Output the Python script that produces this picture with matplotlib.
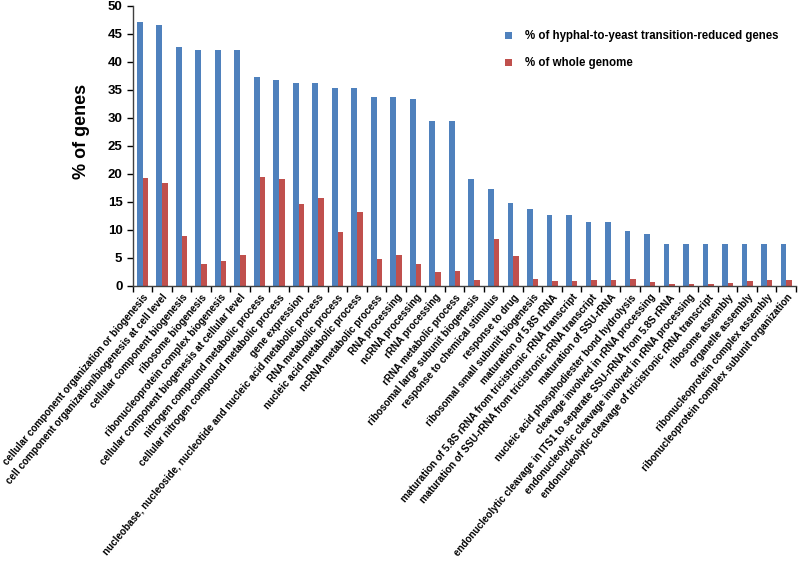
import numpy as np
import matplotlib.pyplot as plt
from matplotlib.ticker import FixedLocator

plt.rcParams['font.family'] = ['Liberation Sans', 'DejaVu Sans']

# GO terms, left to right
categories = [
    "cellular component organization or biogenesis",
    "cell component organization/biogenesis at cell level",
    "cellular component biogenesis",
    "ribosome biogenesis",
    "ribonucleoprotein complex biogenesis",
    "cellular component biogenesis at cellular level",
    "nitrogen compound metabolic process",
    "cellular nitrogen compound metabolic process",
    "gene expression",
    "nucleobase, nucleoside, nucleotide and nucleic acid metabolic process",
    "RNA metabolic process",
    "nucleic acid metabolic process",
    "ncRNA metabolic process",
    "RNA processing",
    "ncRNA processing",
    "rRNA processing",
    "rRNA metabolic process",
    "ribosomal large subunit biogenesis",
    "response to chemical stimulus",
    "response to drug",
    "ribosomal small subunit biogenesis",
    "maturation of 5.8S rRNA",
    "maturation of 5.8S rRNA from tricistronic rRNA transcript",
    "maturation of SSU-rRNA from tricistronic rRNA transcript",
    "maturation of SSU-rRNA",
    "nucleic acid phosphodiester bond hydrolysis",
    "cleavage involved in rRNA processing",
    "endonucleolytic cleavage in ITS1 to separate SSU-rRNA from 5.8S rRNA",
    "endonucleolytic cleavage involved in rRNA processing",
    "endonucleolytic cleavage of tricistronic rRNA transcript",
    "ribosome assembly",
    "organelle assembly",
    "ribonucleoprotein complex assembly",
    "ribonucleoprotein complex subunit organization",
]

# % of hyphal-to-yeast transition-reduced genes
reduced_pct = [47.1, 46.6, 42.6, 42.2, 42.2, 42.2, 37.3, 36.8, 36.3, 36.3,
               35.3, 35.3, 33.8, 33.8, 33.3, 29.4, 29.4, 19.1, 17.2, 14.7,
               13.7, 12.7, 12.7, 11.3, 11.3, 9.8, 9.3, 7.4, 7.4, 7.4,
               7.4, 7.4, 7.4, 7.4]

# % of whole genome
genome_pct = [19.3, 18.3, 8.9, 3.9, 4.4, 5.5, 19.4, 19.1, 14.6, 15.7,
              9.5, 13.2, 4.7, 5.5, 3.9, 2.5, 2.6, 0.9, 8.3, 5.2,
              1.1, 0.8, 0.8, 0.9, 1.0, 1.1, 0.6, 0.3, 0.3, 0.3,
              0.5, 0.8, 1.0, 1.0]

legend_labels = ["% of hyphal-to-yeast transition-reduced genes",
                 "% of whole genome"]

blue = "#4F81BD"
red = "#C0504D"

fig = plt.figure(figsize=(8, 5.71), dpi=100)
ax = fig.add_axes([0.166, 0.5, 0.829, 0.4895])

x = np.arange(len(categories))
w = 0.29
ax.bar(x - w / 2, reduced_pct, width=w, color=blue, label=legend_labels[0])
ax.bar(x + w / 2, genome_pct, width=w, color=red, label=legend_labels[1])

ax.set_xlim(-0.5, len(categories) - 0.5)
ax.set_ylim(0, 50)
ax.set_yticks(np.arange(0, 51, 5))
ax.tick_params(axis='y', direction='out', length=4, width=1, labelsize=9.5)
for t in ax.get_yticklabels():
    t.set_fontweight('bold')

ax.set_xticks(x)
ax.set_xticklabels(categories, rotation=50, ha='right', rotation_mode='anchor',
                   fontsize=7.1, fontweight='bold')
ax.tick_params(axis='x', which='major', length=0, pad=5)
ax.xaxis.set_minor_locator(FixedLocator(np.arange(-0.5, len(categories), 1)))
ax.tick_params(axis='x', which='minor', direction='out', length=4, width=1)

for side in ['top', 'right']:
    ax.spines[side].set_visible(False)
for side in ['left', 'bottom']:
    ax.spines[side].set_color('#404040')
    ax.spines[side].set_linewidth(1)

ax.set_ylabel("% of genes", fontsize=13, fontweight='bold')
ax.yaxis.set_label_coords(-0.065, 0.55)

leg = ax.legend(loc='upper left', bbox_to_anchor=(0.545, 0.95), frameon=False,
                prop={'size': 8.3, 'weight': 'bold'}, handlelength=0.6,
                handleheight=0.6, labelspacing=1.3, handletextpad=1.2)

fig.savefig("out.png", dpi=100)
